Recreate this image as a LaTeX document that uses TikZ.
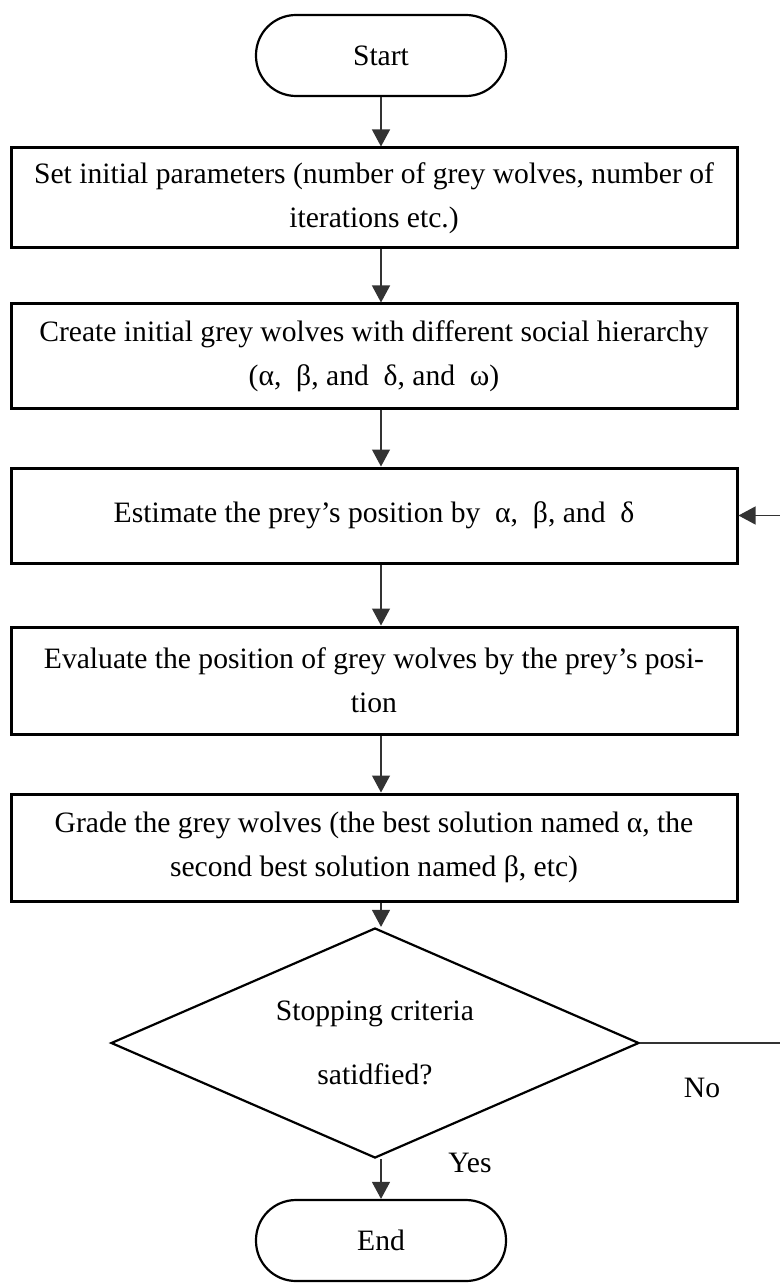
\documentclass[tikz,border=0pt]{standalone}
\usepackage{fontspec}
\setmainfont{Liberation Serif}
\usetikzlibrary{positioning,shapes.geometric,arrows.meta}

\begin{document}
\begin{tikzpicture}[x=0.5pt, y=-0.5pt,
        process/.style={draw=black, line width=1.5pt, minimum width=363pt,
          align=center, inner sep=0pt, font=\fontsize{14.8}{22}\selectfont},
        terminal/.style={draw=black, line width=1.1pt, rounded corners=20pt,
          minimum width=125pt, minimum height=40.5pt, font=\fontsize{14.8}{22}\selectfont},
        decision/.style={draw=black, diamond, aspect=2.3, line width=1.1pt,
          minimum width=264pt, minimum height=115pt, inner sep=0pt,
          align=center, font=\fontsize{14.8}{22}\selectfont},
        flow/.style={draw=black!80, line width=0.6pt, -{Triangle[length=8.5pt,width=9pt]}},
        tag/.style={font=\fontsize{14.8}{22}\selectfont},
      ]
      \useasboundingbox (0,0) rectangle (780,1283);
      \clip (0,0) rectangle (780,1283);

      \node[terminal] (start) at (381,55.5) {Start};
      \node[process, minimum height=50pt] (params) at (374,198)
        {Set initial parameters (number of grey wolves, number of\\ iterations etc.)};
      \node[process, minimum height=52pt] (init) at (374,356)
        {Create initial grey wolves with different social hierarchy\\ (α,\ \ β, and\ \ δ, and\ \ ω)};
      \node[process, minimum height=47.5pt] (estimate) at (374,515.5)
        {Estimate the prey’s position by\ \ α,\ \ β, and\ \ δ};
      \node[process, minimum height=53.5pt] (evaluate) at (374,680.5)
        {Evaluate the position of grey wolves by the prey’s posi-\\ tion};
      \node[process, minimum height=53.5pt] (grade) at (374,847.5)
        {Grade the grey wolves (the best solution named α, the\\ second best solution named β, etc)};
      \node[decision] (stop) at (375,1043) {Stopping criteria\\[10pt] satidfied?};
      \node[terminal] (end) at (381,1240.5) {End};

      \draw[flow] (start.south) -- ([xshift=3.5pt]params.north);
      \draw[flow] ([xshift=3.5pt]params.south) -- ([xshift=3.5pt]init.north);
      \draw[flow] ([xshift=3.5pt]init.south) -- ([xshift=3.5pt]estimate.north);
      \draw[flow] ([xshift=3.5pt]estimate.south) -- ([xshift=3.5pt]evaluate.north);
      \draw[flow] ([xshift=3.5pt]evaluate.south) -- ([xshift=3.5pt]grade.north);
      \draw[flow] ([xshift=3.5pt]grade.south) -- ([xshift=3pt]stop.north);
      \draw[flow] ([xshift=3pt]stop.south) -- (end.north);
      % loop back, runs out past the right edge
      \draw[flow] (stop.east) -- ++(151,0) |- (estimate.east);

      \node[tag] (yes) at (470,1163) {Yes};
      \node[tag] (no) at (702,1088) {No};
    \end{tikzpicture}
\end{document}
